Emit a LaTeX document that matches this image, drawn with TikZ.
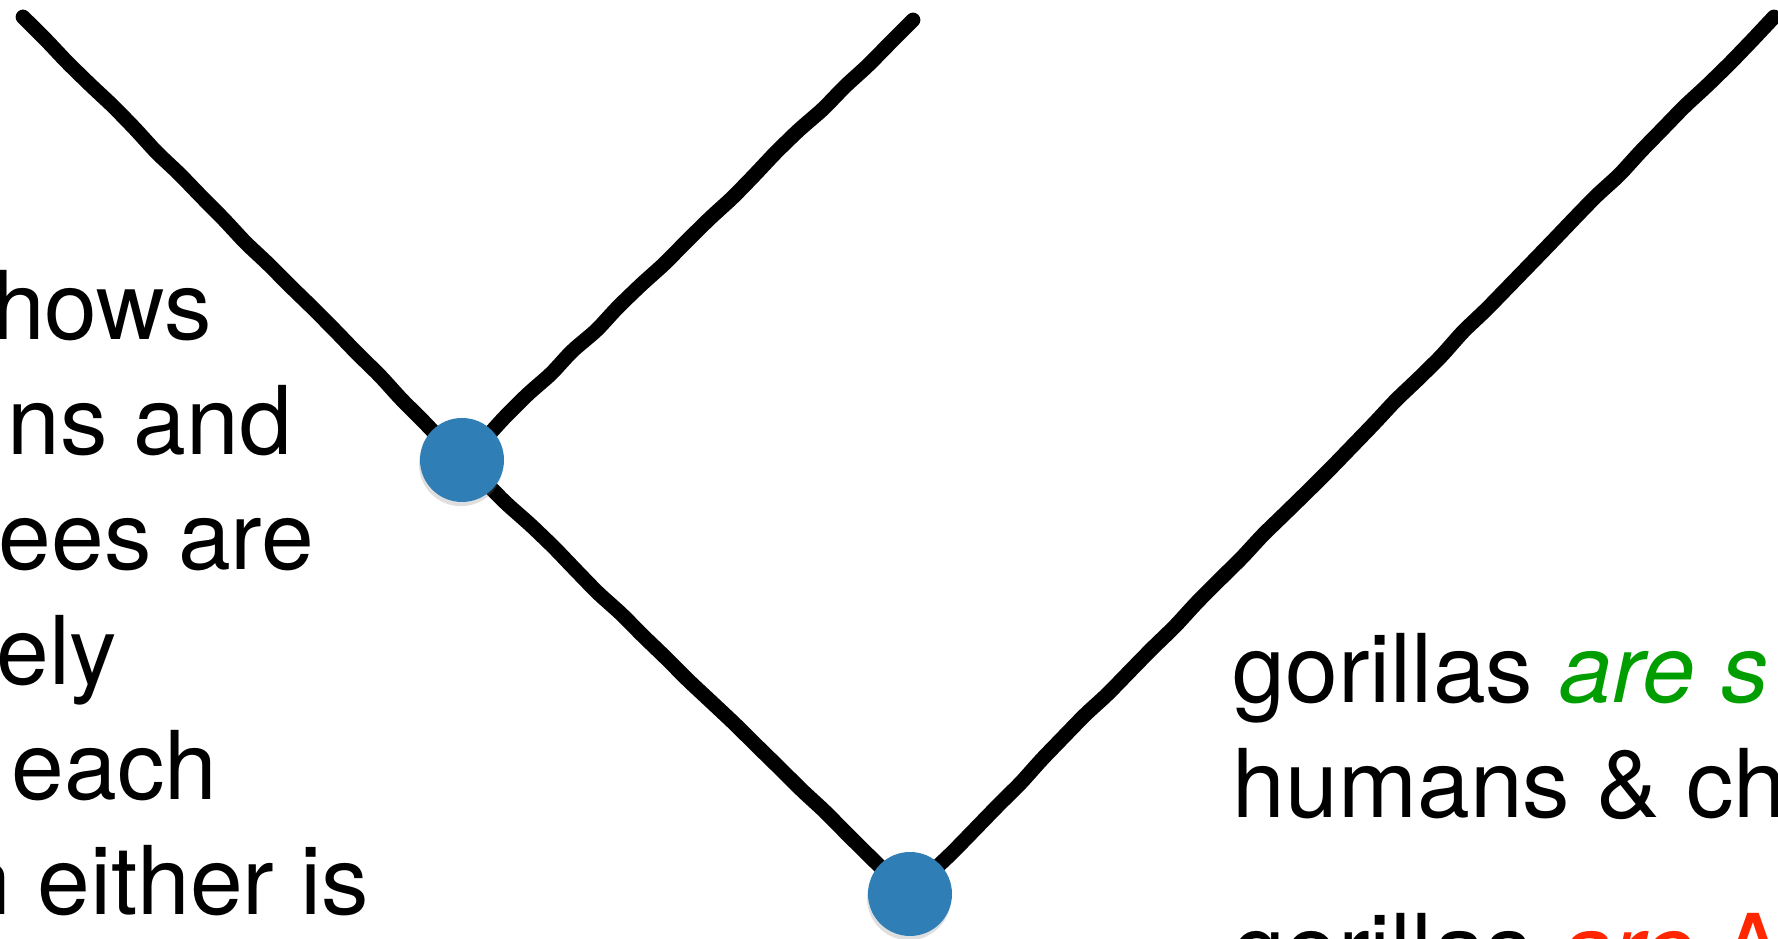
\documentclass[tikz,border=0pt]{standalone}
\usepackage{fontspec}
\setmainfont{TeX Gyre Heros}
\usepackage{xcolor}
\usepackage{tikz}
\usetikzlibrary{backgrounds, shadows, decorations.pathmorphing}
\definecolor{cladeblue}{HTML}{2F7EB5}
\definecolor{sistergreen}{HTML}{009E00}
\definecolor{wrongred}{HTML}{FF2600}

\begin{document}
\begin{tikzpicture}[
    clade/.style={circle, fill=cladeblue, minimum size=0.84cm, inner sep=0pt,
                  drop shadow={shadow xshift=-0.3pt, shadow yshift=-1.2pt, opacity=0.25}},
    branch/.style={line width=4.2pt, line cap=round, line join=round, rounded corners=2pt,
                   decorate, decoration={random steps, segment length=9pt, amplitude=0.35pt}},
    txt/.style={inner sep=0pt, font=\fontsize{27}{32}\selectfont}
  ]
    \pgfmathsetseed{7}
    \useasboundingbox (0,0) rectangle (17.78,9.39);

    % leaves and the two splits
    \coordinate (leafL) at (0.23,9.22);
    \coordinate (leafM) at (9.13,9.19);
    \coordinate (leafR) at (17.74,9.22);
    \node[clade] (n1) at (4.62,4.79) {};
    \node[clade] (n2) at (9.10,0.45) {};

    \begin{scope}[on background layer]
      \draw[branch] (leafL) -- (n1.center);
      \draw[branch] (leafM) -- (n1.center);
      \draw[branch] (n1.center) -- (n2.center);
      \draw[branch] (leafR) -- (n2.center);
    \end{scope}

    \begin{scope}
      \clip (0,0) rectangle (17.78,9.39);
      % left column, cut at the page edge
      \node[txt, anchor=base east] (l1) at (2.13,5.99) {hows};
      \node[txt, anchor=base east] (l2) at (2.93,4.84) {ns and};
      \node[txt, anchor=base east] (l3) at (3.15,3.69) {ees are};
      \node[txt, anchor=base east] (l4) at (1.18,2.54) {ely};
      \node[txt, anchor=base east] (l5) at (2.18,1.39) {each};
      \node[txt, anchor=base east] (l6) at (3.70,0.24) {n either is};

      % right column
      \node[txt, anchor=base west] (r1) at (12.32,2.36)
        {gorillas \textcolor{sistergreen}{\textit{are s}}};
      \node[txt, anchor=base west] (r2) at (12.32,1.21) {humans \& ch};
      \node[txt, anchor=base west] (r3) at (12.32,-0.44)
        {gorillas \textcolor{wrongred}{\textit{are} A}};
    \end{scope}
  \end{tikzpicture}
\end{document}
